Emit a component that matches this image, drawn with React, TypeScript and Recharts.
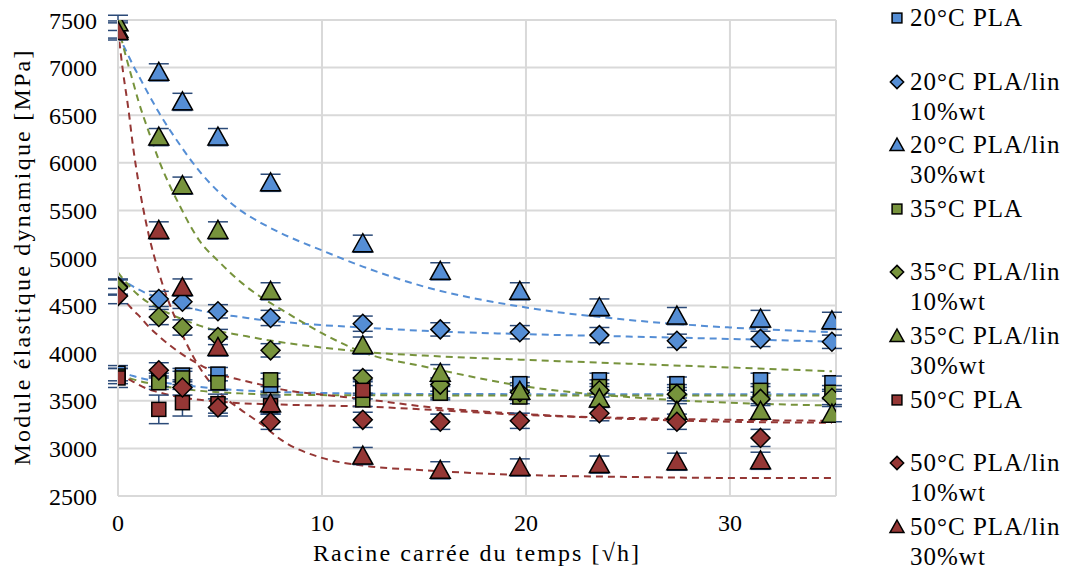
import React from 'react';
import { ComposedChart, Scatter, Line, XAxis, YAxis, CartesianGrid, ErrorBar } from 'recharts';

const FONT = "'Liberation Serif', 'DejaVu Serif', serif";
const BLUE = '#558ED5';
const GREEN = '#77933C';
const RED = '#953735';
const ERR = '#2B4A78';

// abscissa: square root of ageing time (sqrt h)
const times = [0, 2, 3.16, 4.9, 7.48, 12, 15.8, 19.7, 23.6, 27.4, 31.5, 35];

// measured dynamic modulus (MPa)
const pla20 = [3790, 3720, 3770, 3780, 3660, 3640, 3600, 3680, 3720, 3680, 3720, 3690];
const lin10at20 = [4700, 4570, 4540, 4440, 4370, 4310, 4250, 4220, 4190, 4130, 4150, 4120];
const lin30at20 = [7400, 6950, 6640, 6270, 5790, 5150, 4860, 4650, 4480, 4390, 4360, 4340];
const pla35 = [3760, 3690, 3740, 3690, 3720, 3510, 3580, 3540, 3650, 3600, 3610, 3590];
const lin10at35 = [4690, 4380, 4270, 4170, 4030, 3740, 3670, 3590, 3610, 3570, 3520, 3530];
const lin30at35 = [7470, 6270, 5760, 5290, 4650, 4080, 3790, 3600, 3520, 3390, 3390, 3360];
const pla50 = [3740, 3410, 3480, 3470, 3450, 3610, null, null, null, null, null, null];
const lin10at50 = [4600, 3820, 3640, 3430, 3280, 3300, 3280, 3290, 3370, 3280, 3110, null];
const lin30at50 = [7380, 5290, 4690, 4060, 3470, 2920, 2770, 2800, 2830, 2860, 2870, null];

// error bars (MPa)
const errPla20 = [80, 70, 70, 70, 70, 80, 70, 70, 70, 70, 70, 70];
const errLin10at20 = [80, 80, 70, 70, 80, 80, 70, 70, 80, 70, 80, 70];
const errLin30at20 = [90, 90, 90, 90, 90, 90, 90, 90, 90, 90, 90, 90];
const errPla35 = [80, 70, 70, 80, 70, 70, 70, 70, 70, 70, 70, 70];
const errLin10at35 = [80, 80, 80, 80, 70, 80, 70, 70, 70, 70, 70, 70];
const errLin30at35 = [80, 90, 90, 90, 90, 90, 90, 90, 90, 80, 80, 80];
const errPla50 = [100, 150, 140, 100, 90, 90, null, null, null, null, null, null];
const errLin10at50 = [80, 80, 80, 90, 80, 80, 80, 80, 80, 80, 90, null];
const errLin30at50 = [90, 90, 90, 90, 90, 90, 90, 90, 90, 90, 90, null];

// dashed fit curves
const trendX = [0, 0.25, 0.5, 0.75, 1, 1.5, 2, 3, 4, 5, 6, 7, 8, 10, 12, 15, 20, 25, 30, 35];
const fitPla20 = [3800, 3790, 3775, 3760, 3745, 3720, 3700, 3670, 3645, 3625, 3610, 3600, 3592, 3582, 3576, 3572, 3570, 3570, 3570, 3570];
const fitLin10at20 = [4800, 4770, 4730, 4700, 4670, 4620, 4580, 4510, 4450, 4410, 4380, 4350, 4330, 4295, 4270, 4235, 4200, 4175, 4150, 4120];
const fitLin30at20 = [7350, 7240, 7130, 7020, 6920, 6720, 6530, 6200, 5910, 5680, 5500, 5370, 5260, 5080, 4910, 4700, 4480, 4350, 4270, 4220];
const fitPla35 = [3770, 3755, 3740, 3725, 3710, 3685, 3660, 3630, 3605, 3590, 3578, 3570, 3565, 3560, 3558, 3557, 3556, 3556, 3556, 3556];
const fitLin10at35 = [4850, 4780, 4720, 4660, 4610, 4530, 4470, 4370, 4290, 4230, 4190, 4150, 4115, 4060, 4015, 3975, 3930, 3890, 3850, 3810];
const fitLin30at35 = [7450, 7230, 7030, 6840, 6650, 6330, 6030, 5560, 5180, 4950, 4750, 4590, 4460, 4210, 4010, 3860, 3650, 3540, 3480, 3450];
const fitPla50 = [3790, 3760, 3730, 3700, 3670, 3620, 3590, 3540, 3510, 3490, 3475, 3467, 3460, 3450, 3440, 3410, 3350, 3320, 3300, 3290];
const fitLin10at50 = [4600, 4560, 4510, 4450, 4400, 4280, 4180, 4010, 3880, 3780, 3720, 3670, 3620, 3565, 3520, 3440, 3360, 3310, 3280, 3270];
const fitLin30at50 = [7400, 6950, 6580, 6150, 5800, 5250, 4850, 4270, 3850, 3580, 3410, 3260, 3090, 2900, 2820, 2770, 2720, 2700, 2690, 2690];

const xTicks = [0, 10, 20, 30];
const yTicks = [2500, 3000, 3500, 4000, 4500, 5000, 5500, 6000, 6500, 7000, 7500];

type Shape = 'square' | 'diamond' | 'triangle';

const series = [
  { key: 'pla20', lines: ['20°C PLA'], color: BLUE, shape: 'square' as Shape, values: pla20, errors: errPla20, fit: fitPla20 },
  { key: 'lin10at20', lines: ['20°C PLA/lin', '10%wt'], color: BLUE, shape: 'diamond' as Shape, values: lin10at20, errors: errLin10at20, fit: fitLin10at20 },
  { key: 'lin30at20', lines: ['20°C PLA/lin', '30%wt'], color: BLUE, shape: 'triangle' as Shape, values: lin30at20, errors: errLin30at20, fit: fitLin30at20 },
  { key: 'pla35', lines: ['35°C PLA'], color: GREEN, shape: 'square' as Shape, values: pla35, errors: errPla35, fit: fitPla35 },
  { key: 'lin10at35', lines: ['35°C PLA/lin', '10%wt'], color: GREEN, shape: 'diamond' as Shape, values: lin10at35, errors: errLin10at35, fit: fitLin10at35 },
  { key: 'lin30at35', lines: ['35°C PLA/lin', '30%wt'], color: GREEN, shape: 'triangle' as Shape, values: lin30at35, errors: errLin30at35, fit: fitLin30at35 },
  { key: 'pla50', lines: ['50°C PLA'], color: RED, shape: 'square' as Shape, values: pla50, errors: errPla50, fit: fitPla50 },
  { key: 'lin10at50', lines: ['50°C PLA/lin', '10%wt'], color: RED, shape: 'diamond' as Shape, values: lin10at50, errors: errLin10at50, fit: fitLin10at50 },
  { key: 'lin30at50', lines: ['50°C PLA/lin', '30%wt'], color: RED, shape: 'triangle' as Shape, values: lin30at50, errors: errLin30at50, fit: fitLin30at50 },
];

function drawMarker(shape: Shape, cx: number, cy: number, fill: string, s = 1) {
  if (shape === 'square') {
    return <rect x={cx - 7 * s} y={cy - 7 * s} width={14 * s} height={14 * s} fill={fill} stroke="#000" strokeWidth={1.5} />;
  }
  if (shape === 'diamond') {
    const r = 9.5 * s;
    return <polygon points={`${cx},${cy - r} ${cx + r},${cy} ${cx},${cy + r} ${cx - r},${cy}`} fill={fill} stroke="#000" strokeWidth={1.5} />;
  }
  return <polygon points={`${cx},${cy - 10 * s} ${cx + 10 * s},${cy + 8 * s} ${cx - 10 * s},${cy + 8 * s}`} fill={fill} stroke="#000" strokeWidth={1.5} />;
}

const YTitle = () => (
  <text x={22} y={258} transform="rotate(-90 22 258)" textAnchor="middle" dominantBaseline="central"
    style={{ fontFamily: FONT }} fontSize={24} fill="#000" textLength={415} lengthAdjust="spacing">
    Module élastique dynamique [MPa]
  </text>
);

const XTitle = () => (
  <text x={476} y={553} textAnchor="middle" dominantBaseline="central"
    style={{ fontFamily: FONT }} fontSize={24} fill="#000" textLength={326} lengthAdjust="spacing">
    Racine carrée du temps [√h]
  </text>
);

const LegendBox = () => (
  <div style={{ position: 'absolute', left: 0, top: 0 }}>
    {series.map((s, i) => (
      <div key={s.key} style={{ position: 'absolute', left: 888, top: 3 + i * 63.6 }}>
        <svg width={18} height={18} style={{ position: 'absolute', left: 0, top: 6 }}>
          {drawMarker(s.shape, 9, 9, s.color, 0.7)}
        </svg>
        <div style={{ position: 'absolute', left: 22, top: 0, fontFamily: FONT, fontSize: 25, lineHeight: '30px', letterSpacing: 1, whiteSpace: 'nowrap', color: '#000' }}>
          {s.lines.map((l) => <div key={l}>{l}</div>)}
        </div>
      </div>
    ))}
  </div>
);

export default function App() {
  return (
    <div style={{ position: 'absolute', left: 0, top: 0, width: 1072, height: 574, background: '#fff', fontFamily: FONT }}>
      <ComposedChart width={1072} height={574} margin={{ top: 20, right: 236, bottom: 0, left: 0 }} style={{ fontFamily: FONT }}>
        <CartesianGrid stroke="#D9D9D9" strokeWidth={2} />
        <XAxis type="number" dataKey="x" domain={[0, 35.2]} ticks={xTicks} allowDataOverflow height={78}
          axisLine={{ stroke: '#D9D9D9', strokeWidth: 2 }} tickLine={false} tickSize={0} tickMargin={18}
          tick={{ fill: '#000', fontSize: 24, style: { fontFamily: FONT } }} label={<XTitle />} />
        <YAxis type="number" domain={[2500, 7500]} ticks={yTicks} allowDataOverflow width={118}
          axisLine={{ stroke: '#D9D9D9', strokeWidth: 2 }} tickLine={false} tickSize={0} tickMargin={21}
          tick={{ fill: '#000', fontSize: 24, style: { fontFamily: FONT } }} label={<YTitle />} />
        {series.map((s) => (
          <Line key={'fit-' + s.key} data={trendX.map((x, i) => ({ x, y: s.fit[i] }))} dataKey="y" type="monotone"
            stroke={s.color} strokeWidth={2} strokeDasharray="7 5" dot={false} activeDot={false} isAnimationActive={false} />
        ))}
        {series.map((s) => (
          <Scatter key={s.key} dataKey="y" isAnimationActive={false}
            data={times.map((x, i) => ({ x, y: s.values[i], e: s.errors[i] })).filter((d) => d.y != null)}
            shape={(p: any) => drawMarker(s.shape, p.cx, p.cy, s.color)}>
            <ErrorBar dataKey="e" direction="y" width={10} stroke={ERR} strokeWidth={1.5} />
          </Scatter>
        ))}
      </ComposedChart>
      <LegendBox />
    </div>
  );
}
